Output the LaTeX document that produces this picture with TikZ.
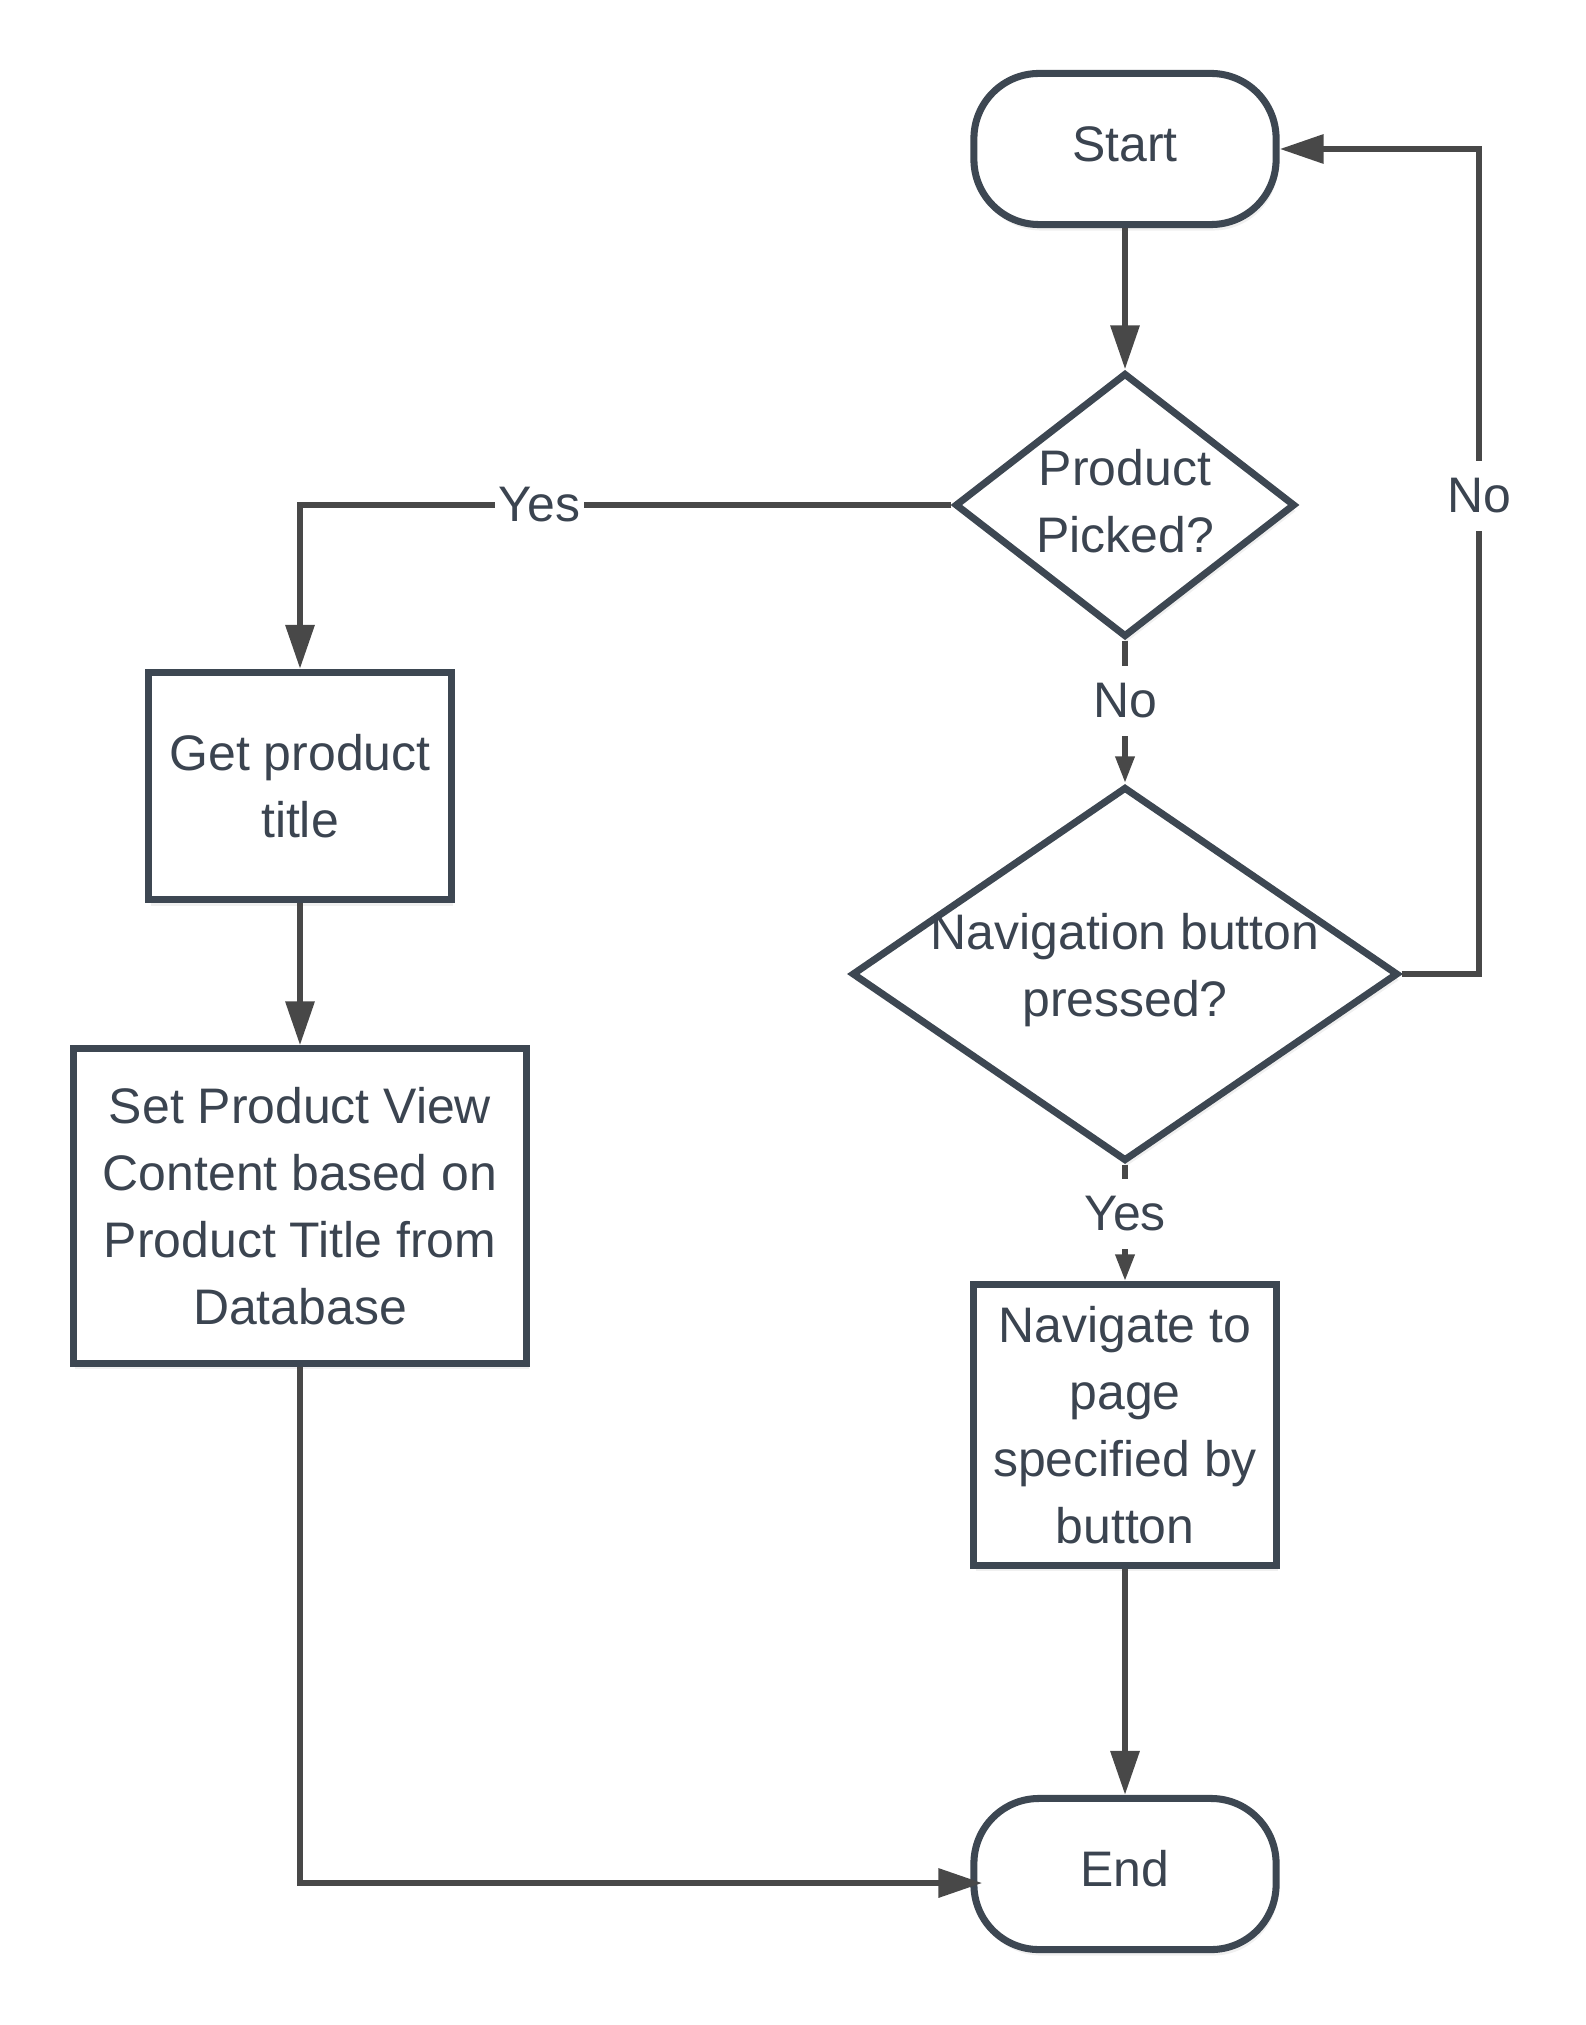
\documentclass[tikz,border=0pt]{standalone}
\usepackage{fontspec}
\setmainfont{Liberation Sans}
\usetikzlibrary{shapes.geometric,arrows.meta,shadows}

\definecolor{shapeline}{HTML}{3D4752}
\definecolor{flowline}{HTML}{484848}
\definecolor{labeltext}{HTML}{3B4450}

\tikzset{
  softshadow/.style={drop shadow={opacity=0.12, shadow xshift=0.02cm, shadow yshift=-0.06cm}},
  terminal/.style={draw=shapeline, line width=2pt, fill=white, rounded corners=0.65cm,
    minimum width=3.02cm, minimum height=1.51cm, softshadow},
  process/.style={draw=shapeline, line width=2pt, fill=white, align=center,
    minimum width=3.02cm, inner sep=0pt, softshadow},
  decision/.style={diamond, draw=shapeline, line width=2pt, fill=white, inner sep=0pt, softshadow},
  qtext/.style={align=center, text=labeltext},
  flow/.style={draw=flowline, line width=1.8pt, -{Triangle[length=0.44cm, width=0.28cm]}},
  shortflow/.style={draw=flowline, line width=1.8pt, -{Triangle[length=0.27cm, width=0.18cm]}},
  lbl/.style={fill=white, inner xsep=1pt, inner ysep=1pt},
  vlbl/.style={fill=white, inner xsep=1pt, inner ysep=5pt}
}

\begin{document}
\begin{tikzpicture}[x=0.01cm, y=-0.01cm, font=\fontsize{14.2}{19}\selectfont,
  every node/.append style={text=labeltext}]
  \useasboundingbox (0,0) rectangle (1586,2025);

  % shapes
  \node[terminal] (start) at (1125,149) {\raisebox{3pt}{Start}};
  \node[decision, minimum width=3.4cm, minimum height=2.64cm,
    label={[qtext, yshift=1pt]center:{Product\\Picked?}}] (pick) at (1125,505) {};
  \node[decision, minimum width=5.46cm, minimum height=3.74cm,
    label={[qtext, yshift=1pt]center:{Navigation button\\pressed?}}] (nav) at (1125,974) {};
  \node[process, minimum height=2.27cm] (get) at (300,786) {Get product\\title};
  \node[process, minimum width=4.53cm, minimum height=3.14cm] (set) at (300,1206)
    {Set Product View\\Content based on\\Product Title from\\Database};
  \node[process, minimum height=2.8cm] (goto) at (1125,1425)
    {Navigate to\\page\\specified by\\button};
  \node[terminal] (end) at (1125,1874) {\raisebox{3pt}{End}};
  \coordinate (loop) at (1479,974);

  % connectors
  \draw[flow] (start) -- (pick);
  \draw[flow] (pick.west) -| node[lbl, pos=0.316] {Yes} (get.north);
  \draw[shortflow] (pick) -- node[vlbl, pos=0.42] {No} (nav);
  \draw[flow] (nav.east) -- (loop) |- node[vlbl, pos=0.29] {No} (start.east);
  \draw[shortflow] (nav) -- node[vlbl, pos=0.42] {Yes} (goto);
  \draw[flow] (get) -- (set);
  \draw[flow] (goto) -- (end);
  \draw[flow] (set.south) |- ([yshift=-0.09cm, xshift=0.12cm]end.west);

\end{tikzpicture}
\end{document}
